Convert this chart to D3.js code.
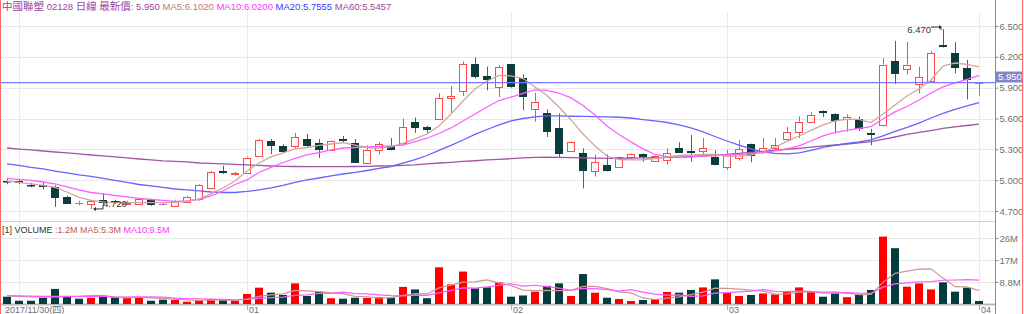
<!DOCTYPE html>
<html><head><meta charset="utf-8">
<script src="https://cdn.jsdelivr.net/npm/d3@7"></script>
<style>
html,body{margin:0;padding:0;background:#fff;}
svg{display:block;}
text{font-family:"Liberation Sans","Noto Sans CJK TC",sans-serif;}
</style></head><body>
<svg id="c" width="1024" height="314"></svg>
<script>
// ---------- data ----------
const dates = ["2017-11-30",
 "2017-12-01","2017-12-04","2017-12-05","2017-12-06","2017-12-07","2017-12-08","2017-12-11","2017-12-12","2017-12-13","2017-12-14",
 "2017-12-15","2017-12-18","2017-12-19","2017-12-20","2017-12-21","2017-12-22","2017-12-27","2017-12-28","2017-12-29",
 "2018-01-02","2018-01-03","2018-01-04","2018-01-05","2018-01-08","2018-01-09","2018-01-10","2018-01-11","2018-01-12","2018-01-15",
 "2018-01-16","2018-01-17","2018-01-18","2018-01-19","2018-01-22","2018-01-23","2018-01-24","2018-01-25","2018-01-26","2018-01-29",
 "2018-01-30","2018-01-31",
 "2018-02-01","2018-02-02","2018-02-05","2018-02-06","2018-02-07","2018-02-08","2018-02-09","2018-02-12","2018-02-13","2018-02-14",
 "2018-02-15","2018-02-20","2018-02-21","2018-02-22","2018-02-23","2018-02-26","2018-02-27","2018-02-28",
 "2018-03-01","2018-03-02","2018-03-05","2018-03-06","2018-03-07","2018-03-08","2018-03-09","2018-03-12","2018-03-13","2018-03-14",
 "2018-03-15","2018-03-16","2018-03-19","2018-03-20","2018-03-21","2018-03-22","2018-03-23","2018-03-26","2018-03-27","2018-03-28",
 "2018-03-29","2018-04-03"];

const open = [4.99,4.99,4.955,4.955,4.93,4.84,4.775,4.77,4.81,4.80,
 4.775,4.77,4.815,4.77,4.755,4.79,4.815,4.92,5.085,5.055,
 5.075,5.235,5.385,5.335,5.335,5.405,5.365,5.295,5.405,5.365,
 5.17,5.295,5.335,5.36,5.565,5.52,5.60,5.80,5.87,6.13,
 6.015,5.91,6.13,5.99,5.70,5.65,5.51,5.285,5.26,5.09,
 5.15,5.125,5.225,5.255,5.19,5.19,5.315,5.28,5.285,5.23,
 5.125,5.215,5.35,5.275,5.31,5.40,5.47,5.57,5.675,5.64,
 5.595,5.595,5.455,5.545,6.16,6.09,5.935,5.96,6.315,6.235,
 6.095,5.95];
const high = [5.015,5.01,4.975,4.975,4.95,4.85,4.80,4.81,4.87,4.81,
 4.80,4.83,4.82,4.78,4.81,4.85,4.96,5.09,5.14,5.08,
 5.23,5.40,5.40,5.35,5.46,5.45,5.40,5.39,5.43,5.40,
 5.34,5.37,5.41,5.60,5.61,5.53,5.845,5.915,6.155,6.195,
 6.105,6.12,6.13,6.03,5.85,5.69,5.65,5.38,5.31,5.25,
 5.25,5.23,5.26,5.26,5.24,5.31,5.37,5.44,5.41,5.29,
 5.295,5.39,5.355,5.41,5.41,5.52,5.62,5.66,5.68,5.65,
 5.64,5.62,5.50,6.185,6.355,6.345,6.105,6.26,6.47,6.345,
 6.17,5.95];
const low = [4.96,4.96,4.93,4.91,4.74,4.77,4.755,4.72,4.755,4.77,
 4.765,4.76,4.75,4.755,4.75,4.78,4.80,4.91,5.06,5.045,
 5.07,5.23,5.255,5.27,5.31,5.32,5.215,5.29,5.37,5.17,
 5.16,5.25,5.29,5.35,5.46,5.46,5.595,5.655,5.82,5.99,
 5.875,5.81,5.90,5.68,5.57,5.42,5.22,5.28,4.92,5.035,
 5.085,5.12,5.20,5.18,5.185,5.15,5.265,5.18,5.25,5.145,
 5.10,5.19,5.175,5.26,5.30,5.39,5.41,5.56,5.615,5.455,
 5.47,5.48,5.34,5.525,5.935,6.03,5.845,5.955,6.29,6.04,
 5.785,5.82];
const close = [4.985,4.97,4.95,4.94,4.825,4.775,4.775,4.80,4.785,4.78,
 4.78,4.815,4.755,4.77,4.80,4.84,4.95,5.075,5.07,5.065,
 5.22,5.39,5.34,5.28,5.42,5.34,5.295,5.385,5.385,5.17,
 5.295,5.35,5.30,5.515,5.505,5.495,5.80,5.815,6.13,6.005,
 5.975,6.10,5.905,5.81,5.765,5.47,5.255,5.375,5.085,5.18,
 5.09,5.225,5.255,5.23,5.235,5.26,5.27,5.26,5.31,5.15,
 5.255,5.30,5.235,5.315,5.34,5.47,5.57,5.635,5.66,5.57,
 5.61,5.495,5.44,6.125,6.03,6.125,6.00,6.235,6.295,6.09,
 5.975,5.95];
// volume in millions
const volume = [2.9,1.3,1.3,2.5,6.0,3.2,2.1,2.5,3.2,2.7,
 2.3,2.5,1.3,1.7,1.6,0.9,1.3,1.9,1.6,1.2,
 4.0,6.5,4.5,3.6,8.2,3.2,4.9,2.3,2.1,2.5,
 2.4,2.8,2.5,6.8,5.8,2.3,14.6,7.8,12.9,6.2,
 6.6,8.6,2.9,3.4,4.9,7.2,8.2,3.2,11.9,4.5,
 2.5,2.0,1.2,1.6,1.9,4.8,4.5,5.6,6.6,9.8,
 4.5,3.2,3.6,4.2,3.8,5.2,6.6,4.9,2.9,4.2,
 2.7,3.8,5.6,26.8,22.2,6.9,8.2,5.8,8.6,4.9,
 6.5,1.2];

const ma5 = [4.992,4.978,4.963,4.949,4.929,4.885,4.832,4.803,4.788,4.781,
 4.781,4.781,4.781,4.781,4.783,4.793,4.817,4.866,4.924,4.992,
 5.090,5.167,5.226,5.265,5.304,5.318,5.338,5.352,5.365,5.342,
 5.318,5.313,5.323,5.357,5.401,5.449,5.527,5.644,5.770,5.887,
 5.965,6.019,6.014,5.989,5.907,5.824,5.712,5.586,5.449,5.333,
 5.235,5.201,5.197,5.197,5.211,5.226,5.240,5.245,5.250,5.250,
 5.231,5.235,5.245,5.274,5.323,5.377,5.430,5.484,5.537,5.576,
 5.591,5.591,5.561,5.644,5.732,5.819,5.887,5.975,6.111,6.140,
 6.126,6.102];
const ma10 = [5.018,5.007,4.997,4.982,4.963,4.934,4.905,4.880,4.866,4.851,
 4.837,4.822,4.812,4.803,4.793,4.798,4.812,4.846,4.895,4.958,
 5.002,5.075,5.124,5.172,5.211,5.245,5.269,5.294,5.313,5.318,
 5.323,5.328,5.333,5.342,5.376,5.408,5.454,5.508,5.576,5.644,
 5.712,5.775,5.809,5.845,5.878,5.873,5.848,5.800,5.727,5.634,
 5.527,5.445,5.372,5.304,5.250,5.231,5.223,5.226,5.236,5.240,
 5.245,5.250,5.260,5.265,5.284,5.304,5.333,5.381,5.430,5.464,
 5.484,5.503,5.522,5.595,5.664,5.717,5.780,5.848,5.907,5.946,
 5.980,6.020];
const ma20 = [5.158,5.143,5.124,5.109,5.089,5.070,5.051,5.036,5.017,4.997,
 4.978,4.958,4.944,4.929,4.914,4.905,4.895,4.885,4.880,4.880,
 4.890,4.905,4.924,4.949,4.978,5.002,5.021,5.041,5.060,5.075,
 5.094,5.114,5.133,5.167,5.201,5.240,5.289,5.338,5.391,5.445,
 5.493,5.537,5.576,5.600,5.615,5.625,5.625,5.622,5.620,5.618,
 5.615,5.612,5.605,5.590,5.576,5.561,5.537,5.508,5.469,5.425,
 5.381,5.342,5.304,5.274,5.260,5.255,5.265,5.289,5.318,5.338,
 5.357,5.372,5.391,5.430,5.474,5.513,5.556,5.605,5.649,5.688,
 5.722,5.7555];
const ma60 = [5.313,5.303,5.294,5.284,5.274,5.265,5.255,5.245,5.236,5.226,
 5.216,5.206,5.197,5.187,5.182,5.177,5.167,5.163,5.158,5.153,
 5.148,5.143,5.138,5.135,5.133,5.131,5.131,5.131,5.131,5.133,
 5.135,5.138,5.140,5.143,5.148,5.158,5.167,5.174,5.182,5.189,
 5.197,5.203,5.209,5.216,5.221,5.223,5.221,5.219,5.216,5.214,
 5.213,5.213,5.214,5.216,5.218,5.221,5.225,5.230,5.235,5.242,
 5.250,5.260,5.269,5.279,5.291,5.301,5.310,5.321,5.333,5.342,
 5.352,5.362,5.374,5.396,5.420,5.445,5.464,5.483,5.503,5.518,
 5.532,5.5457];
const volMa5 = [3.2,3.0,2.8,2.7,2.8,2.9,3.0,3.3,3.4,2.7,
 2.6,2.6,2.4,2.1,1.9,1.6,1.4,1.5,1.5,1.4,
 2.0,3.0,3.6,4.0,5.4,5.2,4.9,4.4,4.1,3.0,
 2.8,2.4,2.5,3.4,4.1,4.0,6.4,7.5,8.7,8.8,
 9.6,8.4,7.4,5.5,5.3,5.4,5.3,5.4,7.0,7.0,
 6.1,4.8,4.4,2.4,1.8,2.3,2.8,3.7,4.7,6.3,
 6.2,5.9,5.5,5.1,3.9,4.0,4.7,4.9,4.7,4.8,
 4.3,3.7,3.8,8.6,12.2,13.1,13.9,14.0,10.3,6.9,
 6.8,5.3];
const volMa10 = [3.3,3.2,3.1,3.0,3.0,3.0,3.0,3.0,3.1,2.75,
 2.75,2.8,2.85,2.75,2.3,2.1,2.0,1.95,1.8,1.65,
 1.8,2.25,2.55,2.7,3.4,3.6,4.25,4.2,4.75,4.1,
 4.0,3.65,3.3,3.2,3.55,3.4,4.45,5.45,6.4,6.35,
 6.8,7.4,8.05,7.15,7.45,6.9,6.35,5.45,6.25,6.15,
 5.7,5.1,5.7,4.7,3.95,3.55,3.6,3.05,3.25,4.35,
 4.5,4.8,5.1,5.7,5.05,4.95,5.1,5.0,4.3,4.4,
 4.5,4.3,4.25,6.7,8.0,8.4,8.8,8.9,9.45,9.55,
 9.7,9.5];

const priceTicks = [4.7,5.0,5.3,5.6,5.9,6.2,6.5];
const priceTickLabels = ["4.700","5.000","5.300","5.600","5.900","6.200","6.500"];
const volTicks = [8.75,17.5,26.25];
const volTickLabels = ["8.8M","17M","26M"];
const monthStartDates = ["2017-12-01","2018-01-02","2018-02-01","2018-03-01","2018-04-03"];
const xTickDates = ["2017-11-30","2018-01-02","2018-02-01","2018-03-01","2018-04-03"];
const xTickLabels = ["2017/11/30(四)","01","02","03","04"];
const lastPrice = 5.950;
const lastPriceLabel = "5.950";

// ---------- layout ----------
const svg = d3.select("#c");
const plotL = 1, plotR = 995;
const mainTop = 12, mainBot = 221, volTop = 222, volBot = 304;

const x = d3.scaleBand().domain(dates).range([1, 985]).paddingInner(1/3).paddingOuter(1/6);
const bw = x.bandwidth();
const cx = d => x(d) + bw / 2;
const y = d3.scaleLinear().domain([4.7, 6.5]).range([211, 26]);
const yv = d3.scaleLinear().domain([0, 35]).range([volBot, 216]);

const C = {
  grid: "#e9e9e9", axis: "#8c8c8c", label: "#707070",
  up: "#ff4a4a", down: "#0c3c3c", downWick: "#4c6666", doji: "#c464c4",
  volUp: "#ff0000", volDown: "#033c3c",
  ma5: "#d3a59c", ma10: "#ff60ff", ma20: "#6464ff", ma60: "#a455a4",
  vma5: "#cf9890", vma10: "#ff5cff",
  last: "#7878ff", lastBox: "#8484c8", border: "#ff6a6a"
};

svg.append("defs").append("clipPath").attr("id", "mainClip")
  .append("rect").attr("x", plotL).attr("y", mainTop).attr("width", plotR - plotL).attr("height", mainBot - mainTop);
svg.select("defs").append("clipPath").attr("id", "volClip")
  .append("rect").attr("x", plotL).attr("y", volTop).attr("width", plotR - plotL).attr("height", volBot - volTop);

// grid
const g = svg.append("g");
g.selectAll("line.hg").data(priceTicks).join("line")
  .attr("x1", plotL).attr("x2", plotR)
  .attr("y1", d => Math.round(y(d)) + 0.5).attr("y2", d => Math.round(y(d)) + 0.5)
  .attr("stroke", C.grid);
g.selectAll("line.vg").data(volTicks).join("line")
  .attr("x1", plotL).attr("x2", plotR)
  .attr("y1", d => Math.round(yv(d)) + 0.5).attr("y2", d => Math.round(yv(d)) + 0.5)
  .attr("stroke", C.grid);
g.selectAll("line.mg").data(monthStartDates).join("line")
  .attr("x1", d => Math.round(cx(d)) + 0.5).attr("x2", d => Math.round(cx(d)) + 0.5)
  .attr("y1", mainTop).attr("y2", volBot)
  .attr("stroke", C.grid);

// panel separators
svg.append("line").attr("x1", 0).attr("x2", plotR).attr("y1", mainBot + 0.5).attr("y2", mainBot + 0.5)
  .attr("stroke", "#cfcfcf");
svg.append("line").attr("x1", 0).attr("x2", plotR).attr("y1", volBot + 0.5).attr("y2", volBot + 0.5)
  .attr("stroke", "#b9b9b9").attr("stroke-width", 2);

// ---------- candles ----------
const idx = d3.range(dates.length);
const cg = svg.append("g").attr("clip-path", "url(#mainClip)");
idx.forEach(i => {
  const d = dates[i], o = open[i], c = close[i], h = high[i], l = low[i];
  const xc = Math.round(cx(d)) + 0.5;
  const x0 = Math.round(x(d));
  const top = Math.min(y(o), y(c)), bot = Math.max(y(o), y(c));
  if (o === c) {
    cg.append("line").attr("x1", xc).attr("x2", xc).attr("y1", y(h)).attr("y2", y(l)).attr("stroke", C.doji);
    cg.append("line").attr("x1", x0).attr("x2", x0 + bw).attr("y1", Math.round(y(c)) + 0.5).attr("y2", Math.round(y(c)) + 0.5).attr("stroke", C.doji);
  } else if (c > o) {
    cg.append("line").attr("x1", xc).attr("x2", xc).attr("y1", y(h)).attr("y2", top).attr("stroke", C.up);
    cg.append("line").attr("x1", xc).attr("x2", xc).attr("y1", bot).attr("y2", y(l)).attr("stroke", C.up);
    cg.append("rect").attr("x", x0 + 0.5).attr("y", Math.round(top) + 0.5)
      .attr("width", bw - 1).attr("height", Math.max(1, Math.round(bot - top)))
      .attr("fill", "#fff").attr("stroke", C.up);
  } else {
    cg.append("line").attr("x1", xc).attr("x2", xc).attr("y1", y(h)).attr("y2", y(l)).attr("stroke", C.downWick);
    cg.append("rect").attr("x", x0).attr("y", Math.round(top))
      .attr("width", bw).attr("height", Math.max(1.5, Math.round(bot - top)))
      .attr("fill", C.down);
  }
});

// ---------- moving averages ----------
const line = d3.line().x((d, i) => cx(dates[i])).y(d => y(d));
const mg = svg.append("g").attr("clip-path", "url(#mainClip)").attr("fill", "none");
[[ma60, C.ma60], [ma20, C.ma20], [ma10, C.ma10], [ma5, C.ma5]].forEach(([s, col]) => {
  mg.append("path").attr("d", line(s)).attr("stroke", col).attr("stroke-width", 1.3);
});

// last price line
svg.append("line").attr("x1", plotL).attr("x2", plotR)
  .attr("y1", y(lastPrice)).attr("y2", y(lastPrice))
  .attr("stroke", C.last).attr("stroke-width", 1.3);

// low / high annotations
const iLow = d3.minIndex(low), iHigh = d3.maxIndex(high);
{
  const xc = cx(dates[iLow]), yl = y(low[iLow]);
  svg.append("path").attr("d", `M${xc + 12},${yl - 4}V${yl}H${xc + 3}`).attr("fill", "none").attr("stroke", "#333");
  svg.append("path").attr("d", `M${xc + 2},${yl}l3,-2v4z`).attr("fill", "#333");
  svg.append("text").attr("x", xc + 12).attr("y", yl - 1.5).attr("font-size", 9.5).attr("fill", "#333").text(low[iLow].toFixed(3));
}
{
  const xc = cx(dates[iHigh]), yh = y(high[iHigh]) - 2;
  svg.append("path").attr("d", `M${xc - 12},${yh}H${xc - 2}V${yh + 3}`).attr("fill", "none").attr("stroke", "#333");
  svg.append("path").attr("d", `M${xc - 1},${yh}l-3,-2v4z`).attr("fill", "#333");
  svg.append("text").attr("x", xc - 12).attr("y", yh + 6).attr("text-anchor", "end").attr("font-size", 9.5).attr("fill", "#333").text(high[iHigh].toFixed(3));
}

// ---------- volume ----------
const vg = svg.append("g").attr("clip-path", "url(#volClip)");
vg.selectAll("rect").data(idx).join("rect")
  .attr("x", i => Math.round(x(dates[i])))
  .attr("y", i => yv(volume[i]))
  .attr("width", bw)
  .attr("height", i => volBot - yv(volume[i]))
  .attr("fill", i => close[i] > open[i] ? C.volUp : C.volDown);
const vline = d3.line().x((d, i) => cx(dates[i])).y(d => yv(d));
vg.append("path").attr("d", vline(volMa5)).attr("fill", "none").attr("stroke", C.vma5).attr("stroke-width", 1.2);
vg.append("path").attr("d", vline(volMa10)).attr("fill", "none").attr("stroke", C.vma10).attr("stroke-width", 1.2);

// ---------- right axes ----------
svg.append("line").attr("x1", plotR + 0.5).attr("x2", plotR + 0.5).attr("y1", 0).attr("y2", 314).attr("stroke", C.axis);
const ax = svg.append("g").attr("transform", `translate(${plotR + 0.5},0)`)
  .call(d3.axisRight(y).tickValues(priceTicks).tickFormat((d, i) => priceTickLabels[i]).tickSize(3).tickPadding(1));
const axv = svg.append("g").attr("transform", `translate(${plotR + 0.5},0)`)
  .call(d3.axisRight(yv).tickValues(volTicks).tickFormat((d, i) => volTickLabels[i]).tickSize(3).tickPadding(1));
[ax, axv].forEach(a => {
  a.select(".domain").remove();
  a.selectAll("line").attr("stroke", C.axis);
  a.selectAll("text").attr("font-size", 9.5).attr("fill", C.label).attr("font-family", "Liberation Sans");
});

// last price box (sits just above the last-price line)
svg.append("rect").attr("x", plotR + 1).attr("y", y(lastPrice) - 11).attr("width", 26).attr("height", 11).attr("fill", C.lastBox);
svg.append("text").attr("x", plotR + 3).attr("y", y(lastPrice) - 2.2).attr("font-size", 9.5).attr("fill", "#fff").text(lastPriceLabel);

// ---------- x axis ----------
const xa = svg.append("g");
xa.selectAll("line").data(xTickDates.slice(1)).join("line")
  .attr("x1", d => Math.round(cx(d)) + 0.5).attr("x2", d => Math.round(cx(d)) + 0.5)
  .attr("y1", volBot + 1).attr("y2", volBot + 6).attr("stroke", "#aaa");
xa.selectAll("text").data(xTickDates).join("text")
  .attr("x", (d, i) => i === 0 ? cx(d) - 2 : cx(d) + 2)
  .attr("y", 313)
  .attr("font-size", 9)
  .attr("fill", C.label)
  .text((d, i) => xTickLabels[i]);

// ---------- headers ----------
const hd = svg.append("text").attr("x", 2).attr("y", 10).attr("font-size", 9.5).attr("fill", "#a043a0");
hd.append("tspan").attr("font-size", 10.5).text("中國聯塑");
hd.append("tspan").text(" 02128 ");
hd.append("tspan").attr("font-size", 10.5).text("日線");
hd.append("tspan").text(" ");
hd.append("tspan").attr("font-size", 10.5).text("最新價");
hd.append("tspan").text(": 5.950 ");
hd.append("tspan").attr("fill", "#c47a72").text("MA5:6.1020 ");
hd.append("tspan").attr("fill", "#ff33ff").text("MA10:6.0200 ");
hd.append("tspan").attr("fill", "#3838ff").text("MA20:5.7555 ");
hd.append("tspan").attr("fill", "#a043a0").text("MA60:5.5457");

const vh = svg.append("text").attr("x", 2).attr("y", 233).attr("font-size", 9).attr("fill", "#333");
vh.append("tspan").text("[1] VOLUME  ");
vh.append("tspan").attr("fill", "#c05a5a").text(":1.2M MA5:5.3M ");
vh.append("tspan").attr("fill", "#ff33ff").text("MA10:9.5M");

// borders
svg.append("line").attr("x1", 0.5).attr("x2", 0.5).attr("y1", 0).attr("y2", 314).attr("stroke", C.border);
svg.append("line").attr("x1", 1022.5).attr("x2", 1022.5).attr("y1", 0).attr("y2", 314).attr("stroke", C.border);
</script>
</body></html>
